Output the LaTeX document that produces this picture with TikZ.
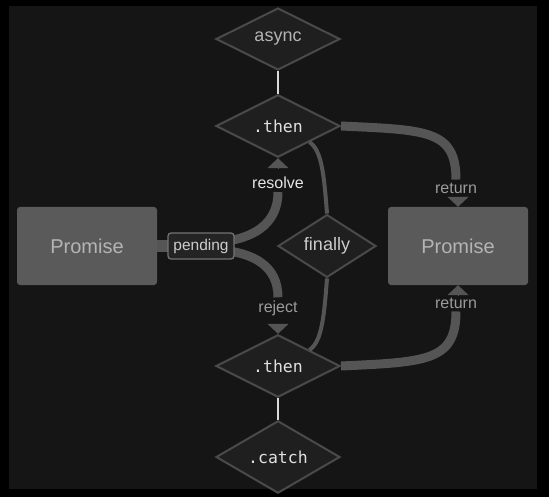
\documentclass[tikz,border=0pt]{standalone}
\usepackage{fontspec}
\setmainfont{Liberation Sans}
\newfontfamily\codefont{DejaVu Sans Mono}
\usetikzlibrary{shapes.geometric,arrows.meta}

\definecolor{frame}{HTML}{000000}
\definecolor{panel}{HTML}{151515}
\definecolor{gatefill}{HTML}{1F1F1F}
\definecolor{gateline}{HTML}{4A4A4A}
\definecolor{wire}{HTML}{555555}
\definecolor{boxfill}{HTML}{5A5A5A}
\definecolor{boxtext}{HTML}{B4B4B4}
\definecolor{dimtext}{HTML}{9B9B9B}

\begin{document}
\begin{tikzpicture}[
    x=1pt, y=-1pt,
    gate/.style     = {diamond, draw=gateline, line width=2pt, fill=gatefill,
                       inner sep=0pt, minimum width=124pt, minimum height=62pt,
                       text=boxtext, font=\fontsize{18}{18}\selectfont},
    code/.style     = {gate, text=white!88!black, font=\codefont\fontsize{16.5}{16.5}\selectfont},
    promise/.style  = {rectangle, rounded corners=3pt, fill=boxfill,
                       minimum width=140pt, minimum height=78pt,
                       text=boxtext, font=\fontsize{20}{20}\selectfont},
    tag/.style      = {inner sep=3pt, text=dimtext, font=\fontsize{16}{16}\selectfont},
    flow/.style     = {draw=wire, line width=9pt},
    link/.style     = {draw=wire, line width=4pt},
    stem/.style     = {draw=white!85!black, line width=1.3pt},
    arrowhead/.style= {draw=wire, line width=1pt, -{Triangle[width=21pt,length=10pt]}},
]
\fill[frame] (0,0) rectangle (549,497);
\fill[panel] (9,6) rectangle (537,489);

\node [gate] (async) at (278,39) {async};
\node [code] (then1) at (278,126) {.then};
\node [gate, minimum width=98pt, minimum height=47pt, text=white!80!black] (fin) at (327,246) {finally};
\node [code] (then2) at (278,366) {.then};
\node [code] (catch) at (278,457) {.catch};

\node [promise] (promL) at (87,246) {Promise};
\node [promise] (promR) at (458,246) {Promise};

\node [tag, text=white!90!black] (res) at (278,183) {resolve};
\node [tag] (rej) at (278,308) {reject};
\node [tag] (ret1) at (456,188) {return};
\node [tag] (ret2) at (456,303) {return};

\draw[stem] (async.south) -- (then1.north);
\draw[stem] (then2.south) -- (catch.north);

\draw[link] (then1.south east) .. controls +(12,8) and +(-3,-40) .. (fin.north);
\draw[link] (fin.south) .. controls +(-3,40) and +(12,-8) .. (then2.north east);

\draw[flow] (then1.east) .. controls +(85,4) and +(0,-50) .. (ret1.north);
\draw[flow] (then2.east) .. controls +(85,-4) and +(0,50) .. (ret2.south);

\draw[flow, line width=12pt] (promL.east) -- (201,246) coordinate (split);
\draw[flow] ([yshift=3pt]split) .. controls +(55,0) and +(0,30) .. (res.south);
\draw[flow] ([yshift=-3pt]split) .. controls +(55,0) and +(0,-30) .. (rej.north);

\node [rectangle, rounded corners=3pt, draw=white!45!black, line width=1.3pt,
       fill=white!14!black, minimum width=66pt, minimum height=26pt, inner sep=0pt,
       text=white!80!black, font=\fontsize{15.5}{15.5}\selectfont] (pend) at (split) {pending};

\draw[arrowhead] ([yshift=-10pt]then1.south) -- (then1.south);
\draw[arrowhead] ([yshift=10pt]then2.north) -- (then2.north);
\draw[arrowhead] ([yshift=10pt]promR.north) -- (promR.north);
\draw[arrowhead] ([yshift=-10pt]promR.south) -- (promR.south);
\end{tikzpicture}
\end{document}
